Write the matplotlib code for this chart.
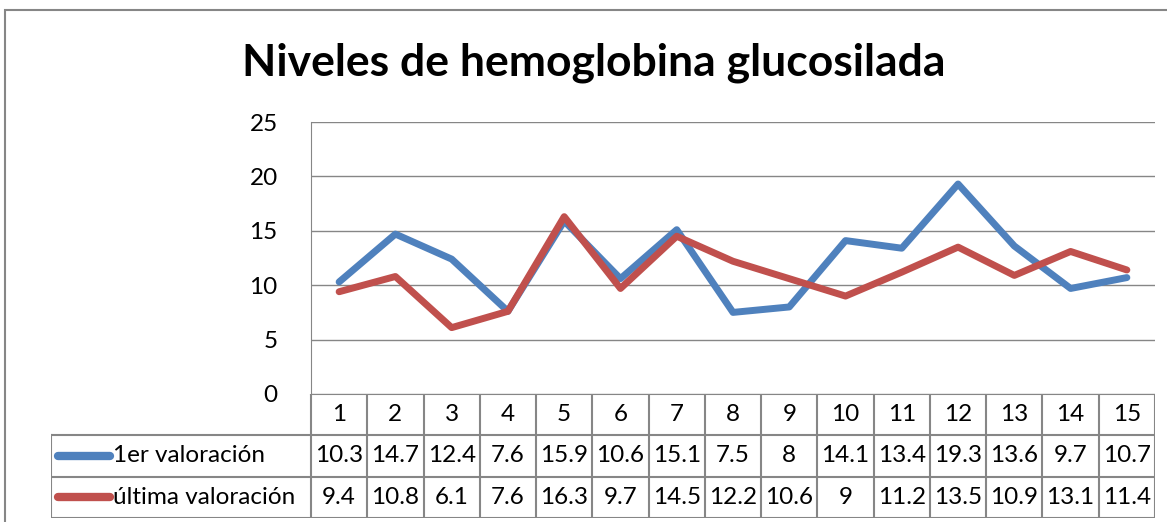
import numpy as np
import matplotlib.pyplot as plt
from matplotlib.patches import Rectangle

categories = [str(i) for i in range(1, 16)]
primera = [10.3, 14.7, 12.4, 7.6, 15.9, 10.6, 15.1, 7.5, 8, 14.1, 13.4, 19.3, 13.6, 9.7, 10.7]
ultima = [9.4, 10.8, 6.1, 7.6, 16.3, 9.7, 14.5, 12.2, 10.6, 9, 11.2, 13.5, 10.9, 13.1, 11.4]
series_names = ["1er valoración", "última valoración"]
y_ticks = [0, 5, 10, 15, 20, 25]

blue = "#4F81BD"
red = "#C0504D"
grid_c = "#868686"
font = "Lato"
fs = 17.5

W, H = 1167, 522
fig = plt.figure(figsize=(W / 100, H / 100), dpi=100)

def px_box(x0, y0, x1, y1):
    return [x0 / W, 1 - y1 / H, (x1 - x0) / W, (y1 - y0) / H]

# outer chart border
fig.patches.append(Rectangle((5 / W, -0.1), 1.2, 1 - 10 / H + 0.1, transform=fig.transFigure,
                             fill=False, edgecolor="#868686", lw=1.5))

fig.text(594 / W, 1 - 63 / H, "Niveles de hemoglobina glucosilada", ha="center", va="center",
         fontsize=32, fontweight="bold", family=font)

x = np.arange(1, len(categories) + 1)
left, right, top, bottom = 311, 1155, 122, 394
ax = fig.add_axes(px_box(left, top, right, bottom))
ax.plot(x, primera, color=blue, lw=5, solid_joinstyle="round", solid_capstyle="round", zorder=3)
ax.plot(x, ultima, color=red, lw=5, solid_joinstyle="round", solid_capstyle="round", zorder=3)
ax.set_xlim(0.5, len(categories) + 0.5)
ax.set_ylim(0, 25)
ax.set_yticks(y_ticks)
ax.set_yticklabels([str(t) for t in y_ticks], family=font, fontsize=fs)
ax.set_xticks([])
ax.tick_params(axis="y", length=0, pad=24)
ax.grid(axis="y", color=grid_c, lw=1)
for s in ["top", "right", "bottom"]:
    ax.spines[s].set_visible(False)
ax.spines["left"].set_color(grid_c)
ax.set_facecolor("none")

# data table below
cw = (right - left) / len(categories)
tab_left = 51
x_start = 0.5 - (left - tab_left) / cw
tab = fig.add_axes(px_box(tab_left, bottom, right, 518))
tab.set_xlim(x_start, len(categories) + 0.5)
tab.set_ylim(3, 0)
tab.axis("off")
lc = dict(color=grid_c, lw=1.5)
# horizontal lines
tab.plot([0.5, len(categories) + 0.5], [0, 0], **lc)
for r in [1, 2, 3]:
    tab.plot([x_start, len(categories) + 0.5], [r, r], **lc)
# vertical lines
for i in range(len(categories) + 1):
    tab.plot([0.5 + i, 0.5 + i], [0, 3], **lc)
tab.plot([x_start, x_start], [1, 3], **lc)

for i, c in enumerate(categories):
    tab.text(x[i], 0.5, c, ha="center", va="center", fontsize=fs, family=font)
for r, (vals, col, name) in enumerate([(primera, blue, series_names[0]), (ultima, red, series_names[1])]):
    yr = 1.5 + r
    for i, v in enumerate(vals):
        tab.text(x[i], yr, f"{v:g}", ha="center", va="center", fontsize=fs, family=font)
    tab.plot([x_start + 0.12, x_start + 1.05], [yr, yr], color=col, lw=6, solid_capstyle="round")
    tab.text(x_start + 1.1, yr, name, ha="left", va="center", fontsize=fs, family=font)

fig.savefig("out.png", dpi=100)
